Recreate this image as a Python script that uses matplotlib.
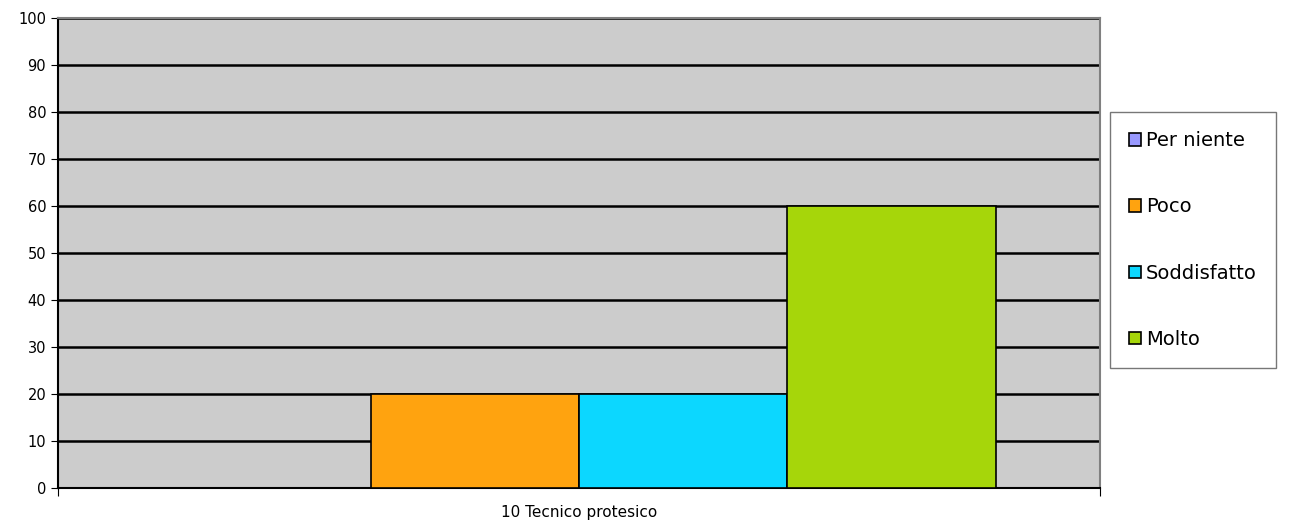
import numpy as np
import matplotlib.pyplot as plt
from matplotlib.patches import Patch

categories = ["10 Tecnico protesico"]
series = ["Per niente", "Poco", "Soddisfatto", "Molto"]
values = [0, 20, 20, 60]
colors = ["#9999FF", "#FFA30F", "#0CD7FF", "#A6D60A"]

fig = plt.figure(figsize=(12.92, 5.24), dpi=100)
ax = fig.add_axes([58 / 1292, 1 - 488 / 524, 1042 / 1292, 470 / 524])
ax.set_facecolor("#CCCCCC")

width = 0.2
x = np.arange(len(categories))
for i, (name, v, c) in enumerate(zip(series, values, colors)):
    ax.bar(x + (i - 1.5) * width, v, width, color=c, edgecolor="black",
           linewidth=1.2, zorder=3, label=name)

ax.set_xlim(-0.5, 0.5)
ax.set_ylim(0, 100)
ax.set_yticks(range(0, 101, 10))
ax.yaxis.grid(True, color="black", linewidth=1.8, zorder=1)
ax.set_axisbelow(True)

ax.set_xticks([-0.5, 0.5])
ax.set_xticklabels([])
ax.set_xticks(x, minor=True)
ax.set_xticklabels(categories, minor=True)
ax.tick_params(axis="x", which="minor", length=0, pad=12, labelsize=11)
ax.tick_params(axis="x", which="major", length=6, direction="out", color="black")
ax.tick_params(axis="y", length=5, direction="out", labelsize=10.5)

for s in ["top", "right"]:
    ax.spines[s].set_color("#808080")
    ax.spines[s].set_linewidth(1.5)
ax.spines["left"].set_color("black")
ax.spines["left"].set_linewidth(1.5)
ax.spines["bottom"].set_color("black")
ax.spines["bottom"].set_linewidth(1.5)

handles = [Patch(facecolor=c, edgecolor="black", linewidth=1.2, label=n)
           for n, c in zip(series, colors)]
leg = fig.legend(handles=handles, loc="upper left",
                 bbox_to_anchor=(1110 / 1292, 1 - 112 / 524),
                 frameon=True, fancybox=False, fontsize=14,
                 handlelength=0.6, handleheight=0.6, handletextpad=0.25,
                 labelspacing=2.42, borderpad=1.0, borderaxespad=0)
leg.get_frame().set_edgecolor("#555555")
leg.get_frame().set_linewidth(1.0)

fig.savefig("out.png", dpi=100)
